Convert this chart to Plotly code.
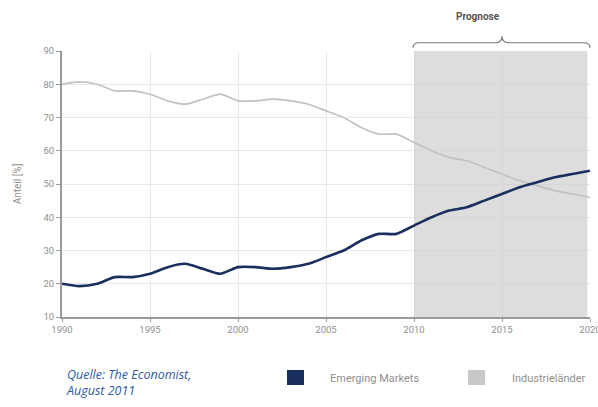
import plotly.graph_objects as go

# Anteil am Welt-BIP (%), 1990-2020, ab 2010 Prognose
years = list(range(1990, 2021))
emerging = [20, 19.3, 20, 22, 22, 23, 25, 26, 24.5, 23, 25, 25, 24.5, 25, 26,
            28, 30, 33, 35, 35, 37.5, 40, 42, 43, 45, 47, 49, 50.5, 52, 53, 54]
industrie = [80, 80.7, 80, 78, 78, 77, 75, 74, 75.5, 77, 75, 75, 75.5, 75, 74,
             72, 70, 67, 65, 65, 62.5, 60, 58, 57, 55, 53, 51, 49.5, 48, 47, 46]
x_ticks = [1990, 1995, 2000, 2005, 2010, 2015, 2020]
y_ticks = [10, 20, 30, 40, 50, 60, 70, 80, 90]
prognose_start, prognose_end = 2010, 2019.85

NAVY = "#1b2f5e"
GREY_LINE = "#c2c2c2"
TEXT_GREY = "#8f8f8f"
SOURCE_BLUE = "#2d5a9c"
TICK_FONT = "Roboto, Liberation Sans, sans-serif"

X0, X1 = 1990, 2020


def xp(year):
    """Year -> paper x fraction."""
    return (year - X0) / (X1 - X0)


fig = go.Figure()

fig.add_trace(go.Scatter(x=years, y=industrie, mode="lines", name="Industrieländer",
                         line=dict(color=GREY_LINE, width=1.7, shape="spline", smoothing=0.6),
                         showlegend=False))
fig.add_trace(go.Scatter(x=years, y=emerging, mode="lines", name="Emerging Markets",
                         line=dict(color=NAVY, width=2.6, shape="spline", smoothing=0.6),
                         showlegend=False))

# Prognose-Zeitraum
fig.add_shape(type="rect", xref="x", yref="y", x0=prognose_start, x1=prognose_end,
              y0=10, y1=90, layer="between",
              fillcolor="rgba(208,208,208,0.72)", line=dict(width=0))

# geschweifte Klammer über dem Prognose-Zeitraum
xa, xm, xb = xp(prognose_start) - 0.002, xp(2015), xp(2020)
y_end, y_h, y_pk = 1.012, 1.031, 1.055
d = 0.012
brace = (f"M {xa},{y_end} Q {xa},{y_h} {xa + d},{y_h} L {xm - d},{y_h} "
         f"Q {xm},{y_h} {xm},{y_pk} Q {xm},{y_h} {xm + d},{y_h} "
         f"L {xb - d},{y_h} Q {xb},{y_h} {xb},{y_end}")
fig.add_shape(type="path", xref="paper", yref="paper", path=brace,
              line=dict(color="#777777", width=1.2))
fig.add_annotation(x=xm, y=1.128, xref="paper", yref="paper", yanchor="middle",
                   text="<b>Prognose</b>", showarrow=False,
                   font=dict(family=TICK_FONT, size=10, color="#555555"))

# Legende
legend_items = [("Emerging Markets", NAVY, 287, 328),
                ("Industrieländer", "#c8c8c8", 468, 510)]
plot_left, plot_w = 62, 528
for label, col, sq_px, txt_px in legend_items:
    fig.add_shape(type="rect", xref="paper", yref="paper",
                  x0=(sq_px - plot_left) / plot_w, x1=(sq_px + 17 - plot_left) / plot_w,
                  y0=(317 - 385) / 266, y1=(317 - 370) / 266,
                  fillcolor=col, line=dict(width=0))
    fig.add_annotation(x=(txt_px - plot_left) / plot_w, y=(317 - 378) / 266,
                       xref="paper", yref="paper", xanchor="left", yanchor="middle",
                       text=label, showarrow=False,
                       font=dict(family=TICK_FONT, size=11, color=TEXT_GREY))

# Quellenangabe
fig.add_annotation(x=(64 - plot_left) / plot_w, y=(317 - 364) / 266, xref="paper", yref="paper",
                   xanchor="left", yanchor="top", align="left", showarrow=False,
                   text="<i>Quelle: The Economist,<br>August 2011</i>",
                   font=dict(family="Open Sans, Lato, sans-serif", size=12.5, color=SOURCE_BLUE))

fig.update_xaxes(range=[X0, X1], tickvals=x_ticks, ticktext=[str(v) for v in x_ticks],
                 ticklabeloverflow="allow", automargin=False,
                 showgrid=True, gridcolor="#e8e8e8", gridwidth=1,
                 showline=True, linecolor="#9a9a9a", linewidth=2,
                 ticks="outside", ticklen=3, tickcolor="#9a9a9a",
                 tickfont=dict(family=TICK_FONT, size=9.5, color=TEXT_GREY),
                 zeroline=False, fixedrange=True)
fig.update_yaxes(range=[10, 90], tickvals=y_ticks, automargin=False,
                 showgrid=True, gridcolor="#e8e8e8", gridwidth=1,
                 showline=True, linecolor="#9a9a9a", linewidth=2,
                 ticks="outside", ticklen=4, tickcolor="#9a9a9a",
                 tickfont=dict(family=TICK_FONT, size=9.5, color=TEXT_GREY),
                 title=dict(text="Anteil [%]", standoff=20,
                            font=dict(family=TICK_FONT, size=10, color=TEXT_GREY)),
                 zeroline=False, fixedrange=True)

fig.update_layout(width=598, height=407, autosize=False,
                  margin=dict(l=62, r=8, t=51, b=90, autoexpand=False),
                  paper_bgcolor="white", plot_bgcolor="white",
                  showlegend=False)

fig.write_html("out.html", config={"displayModeBar": False})
